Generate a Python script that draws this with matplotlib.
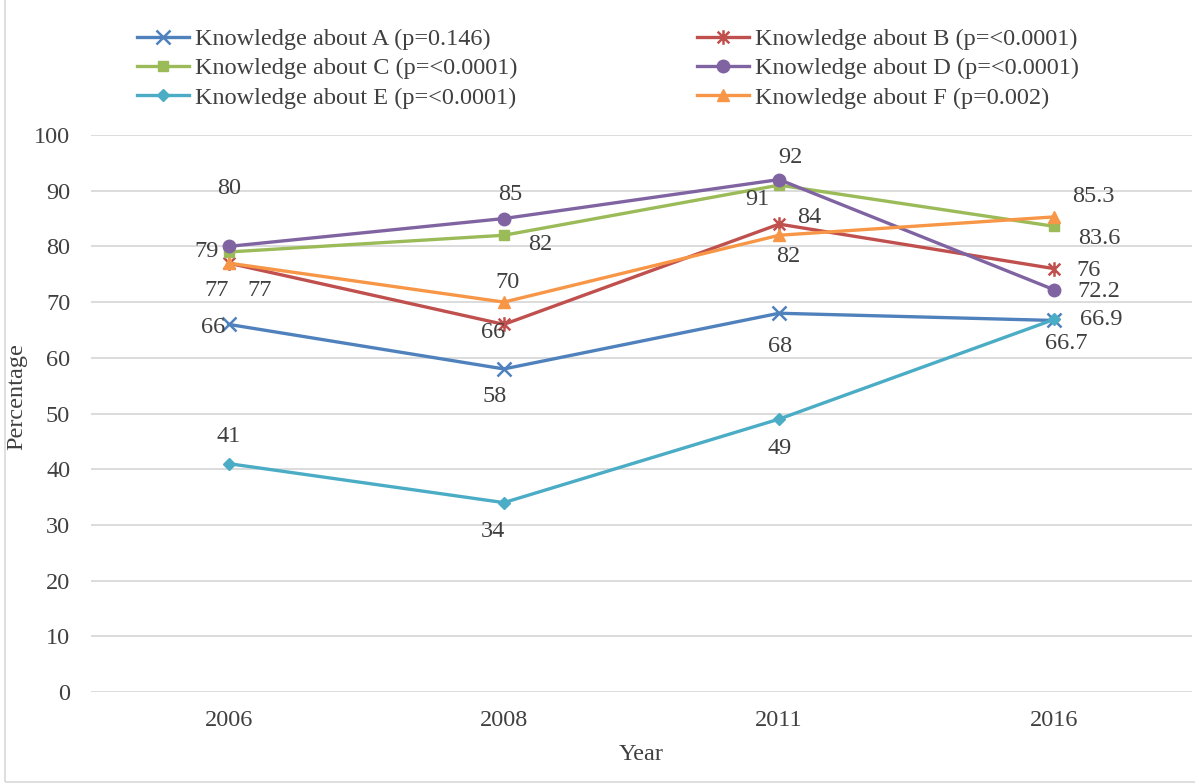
import numpy as np
import matplotlib
matplotlib.use("Agg")
import matplotlib.pyplot as plt
from matplotlib.patches import Rectangle
from matplotlib.path import Path

plt.rcParams['font.family'] = ['Liberation Serif', 'DejaVu Serif']

years = ['2006', '2008', '2011', '2016']
series_names = ['Knowledge about A (p=0.146)', 'Knowledge about B (p=<0.0001)',
                'Knowledge about C (p=<0.0001)', 'Knowledge about D (p=<0.0001)',
                'Knowledge about E (p=<0.0001)', 'Knowledge about F (p=0.002)']
know_a = [66, 58, 68, 66.7]
know_b = [77, 66, 84, 76]
know_c = [79, 82, 91, 83.6]
know_d = [80, 85, 92, 72.2]
know_e = [41, 34, 49, 66.9]
know_f = [77, 70, 82, 85.3]
all_series = [know_a, know_b, know_c, know_d, know_e, know_f]

# excel style star: an x with a vertical bar through it
star = Path([(-1, -1), (1, 1), (-1, 1), (1, -1), (0, -1.25), (0, 1.25)],
            [Path.MOVETO, Path.LINETO, Path.MOVETO, Path.LINETO, Path.MOVETO, Path.LINETO])

colors = ['#4F81BD', '#C0504D', '#9BBB59', '#8064A2', '#4BACC6', '#F79646']
markers = ['x', star, 's', 'o', 'D', '^']
msizes = [9.5, 10.5, 7.5, 9, 6.5, 9]

# data label offsets in pixels (dx right, dy down), per series per year
label_offsets = [
    [(-16, 3), (-9, 28), (1, 33), (12, 23)],
    [(-12, 27), (-11, 8), (30, -7), (34, 2)],
    [(-22, 0), (36, 9), (-22, 14), (45, 12)],
    [(0, -58), (6, -24), (11, -22), (44, 2)],
    [(0, -27), (-11, 29), (1, 29), (47, 0)],
    [(31, 27), (4, -20), (9, 21), (39, -20)],
]

txt = '#404040'
fs = 17.5

fig = plt.figure(figsize=(11.95, 7.83), dpi=100)
ax = fig.add_axes([91/1195, 1 - 692/783, 1101/1195, 557/783])

x = np.arange(len(years))
handles = []
for i, (vals, name, c, ms) in enumerate(zip(all_series, series_names, colors, msizes)):
    m = markers[i]
    thin = i in (0, 1)
    h, = ax.plot(x, vals, color=c, lw=2.4, marker=m, markersize=ms,
                 markeredgewidth=1.8 if thin else 1,
                 markerfacecolor=c, markeredgecolor=c, label=name, clip_on=False)
    handles.append(h)

for vals, offs in zip(all_series, label_offsets):
    for i, (v, (dx, dy)) in enumerate(zip(vals, offs)):
        ax.annotate('%g' % v, (x[i], v), xytext=(dx, -dy), textcoords='offset pixels',
                    ha='center', va='center', fontsize=fs, color=txt)

ax.set_xlim(-0.5, 3.5)
ax.set_ylim(0, 100)
ax.set_yticks(np.arange(0, 101, 10))
ax.set_xticks(x)
ax.set_xticklabels(years)
ax.tick_params(axis='both', length=0, labelsize=fs, labelcolor=txt)
ax.tick_params(axis='y', pad=15)
ax.tick_params(axis='x', pad=13)
ax.grid(axis='y', color='#D9D9D9', lw=1.3)
ax.set_axisbelow(True)
for s in ax.spines.values():
    s.set_visible(False)

ax.set_ylabel('Percentage', fontsize=fs, color=txt)
ax.yaxis.set_label_coords(-0.058, 0.53)
ax.set_xlabel('Year', fontsize=fs, color=txt, labelpad=9)

for hs, ns, xa in [(handles[0::2], series_names[0::2], 137), (handles[1::2], series_names[1::2], 697)]:
    fig.legend(hs, ns, loc='upper left', bbox_to_anchor=(xa/1195, 1 - 28/783),
               frameon=False, fontsize=fs, handlelength=2.15, handletextpad=0.25,
               borderpad=0, borderaxespad=0, labelspacing=0.3, labelcolor=txt)

fig.patches.append(Rectangle((5/1195, 1/783), 1.0, 1.0, transform=fig.transFigure,
                             fill=False, edgecolor='#D9D9D9', lw=1.2))

fig.savefig('out.png', dpi=100)
